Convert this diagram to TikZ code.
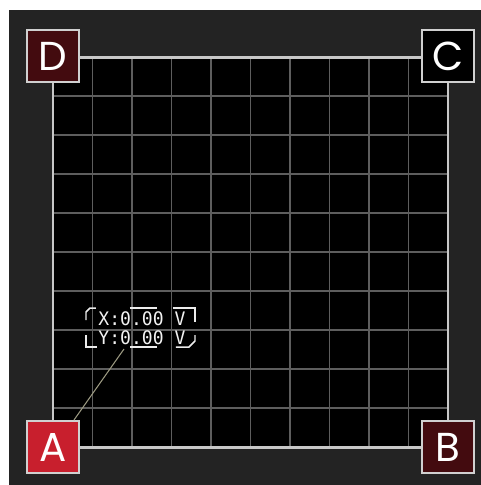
\documentclass[tikz,border=0pt]{standalone}
\usepackage{fontspec}
\usepackage{tikz}
\usetikzlibrary{positioning}
\newfontfamily\cornerfont{Poppins}
\newfontfamily\readfont{DejaVu Sans Mono}[FakeStretch=0.97]
\definecolor{panelbg}{HTML}{232323}
\definecolor{gridline}{HTML}{5E5E5E}
\definecolor{gridframe}{HTML}{C8C8C8}
\definecolor{cornerred}{HTML}{C81F2D}
\definecolor{cornerdark}{HTML}{430B0F}
\definecolor{leadercol}{HTML}{9C9A82}

\begin{document}
\begin{tikzpicture}[x=0.02cm, y=-0.02cm,
  corner/.style={draw=gridframe!85, line width=1.1pt, minimum size=1.04cm,
    inner sep=0pt, text=white, font=\cornerfont\fontsize{23}{23}\selectfont},
  bracket/.style={draw=white!85!gray, line width=0.85pt},
  leader/.style={draw=leadercol, line width=0.6pt}]
  \useasboundingbox (0,0) rectangle (481,485);
  \fill[white] (0,0) rectangle (481,485);
  \fill[panelbg] (9,10) rectangle (481,485);
  % scope grid
  \fill[black] (53,57) rectangle (448,447);
  \foreach \i in {1,...,9} {
    \draw[gridline, line width=1.1pt] (53+39.5*\i,57) -- (53+39.5*\i,447);
    \draw[gridline, line width=1.1pt] (53,57+39*\i) -- (448,57+39*\i);
  }
  \draw[gridframe, line width=1.7pt] (53,57) rectangle (448,447);
  % corner markers
  \node[corner, fill=cornerdark] (D) at (53,56) {D};
  \node[corner, fill=black] (C) at (448,56) {C};
  \node[corner, fill=cornerred] (A) at (53,447) {A};
  \node[corner, fill=cornerdark] (B) at (448,447) {B};
  % cursor readout
  \node[text=white!90!gray, align=left, inner sep=0pt,
    font=\readfont\fontsize{10.6}{11}\selectfont] (readout) at (142,328.5)
    {X:0.00 V\\Y:0.00 V};
  \coordinate (tip) at (124,349);
  \draw[bracket] (86,320) -- (86,312) -- (90,308) -- (96,308);
  \draw[bracket] (130,308) -- (157,308);
  \draw[bracket] (173,308) -- (195,308) -- (195,322);
  \draw[bracket] (86,335) -- (86,347) -- (97,347);
  \draw[bracket] (130,347) -- (157,347);
  \draw[bracket] (195,335) -- (195,341) -- (189,347) -- (176,347);
  \draw[leader] ([xshift=-0.12cm]A.north east) -- (tip);
\end{tikzpicture}
\end{document}
